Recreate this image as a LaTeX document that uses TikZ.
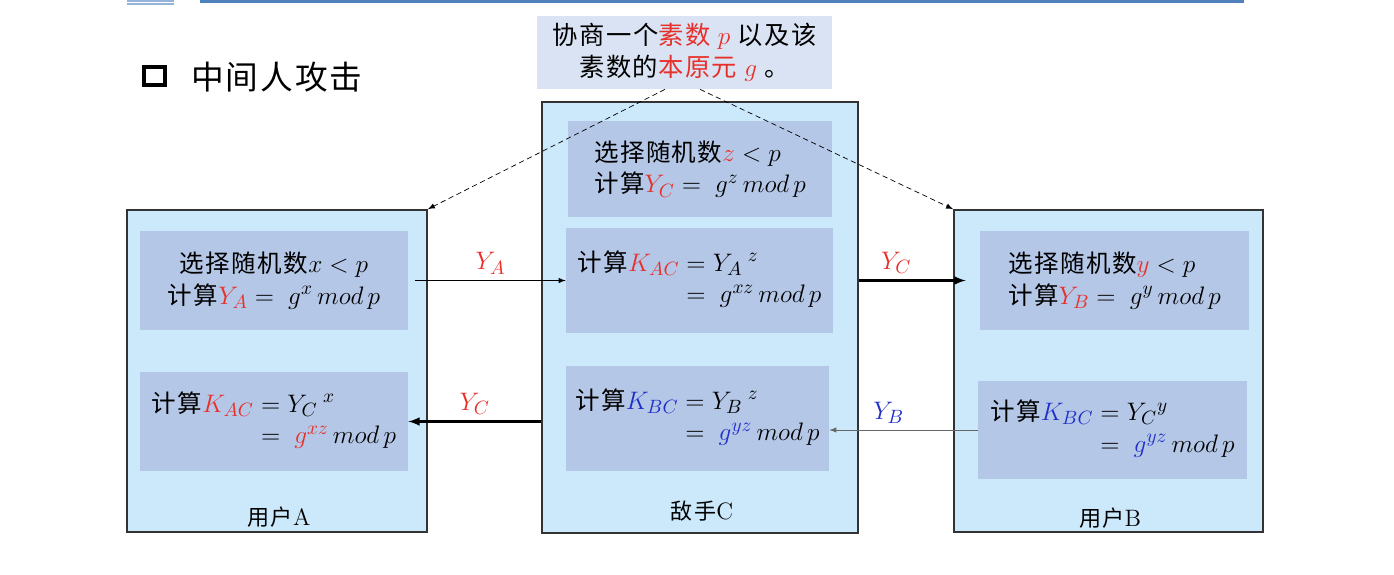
\documentclass[tikz,border=0pt]{standalone}
\usepackage{fontspec}
\usepackage{xcolor}
\newfontfamily\cjk[Scale=0.93,LetterSpace=6]{Noto Sans CJK SC}
\usetikzlibrary{arrows,calc,positioning}
\definecolor{outerfill}{RGB}{204,232,251}
\definecolor{innerfill}{RGB}{180,199,231}
\definecolor{notefill}{RGB}{218,227,243}
\definecolor{keyred}{RGB}{232,48,42}
\definecolor{keyblue}{RGB}{32,48,200}
\definecolor{headblue}{RGB}{79,129,189}

\begin{document}
\begin{tikzpicture}[x=0.02cm,y=-0.02cm,
		party/.style={draw=black!80, line width=1pt, fill=outerfill},
		calcbox/.style={fill=innerfill, inner sep=0pt, font=\cjk\fontsize{15}{18}\selectfont},
		msg/.style={above, font=\fontsize{15}{17}\selectfont},
		who/.style={font=\fontsize{13.5}{15}\selectfont}]
		\useasboundingbox (0,0) rectangle (1394,575);
		\draw[headblue!60, line width=0.6pt] (127,1) -- (174,1);
		\draw[headblue!60, line width=0.6pt] (127,4) -- (174,4);
		\draw[headblue, line width=1.8pt] (200,1.5) -- (1244,1.5);
		\draw[line width=2.2pt] (144,67) rectangle (165,85);
		\node[font=\cjk\fontsize{20}{22}\selectfont] (title) at (277,77) {中间人攻击};
		\node[fill=notefill, minimum width=5.9cm, minimum height=1.46cm, align=center, font=\cjk\fontsize{15.5}{18.5}\selectfont] (note) at (684.5,52.5) {协商一个\textcolor{keyred}{素数 $p$} 以及该\\素数的\textcolor{keyred}{本原元 $g$} 。};
		\node[party, minimum width=6cm, minimum height=6.44cm] (userA) at (277,371) {};
		\node[party, minimum width=6.32cm, minimum height=8.62cm] (enemyC) at (700,317.5) {};
		\node[party, minimum width=6.18cm, minimum height=6.44cm] (userB) at (1108.5,371) {};
		\node[calcbox, minimum width=5.36cm, minimum height=1.98cm, align=center] (selA) at (274,280.5) {选择随机数$x < p$\\计算$\textcolor{keyred}{Y_A} = \ g^x\,mod\,p$};
		\node[calcbox, minimum width=5.36cm, minimum height=1.98cm] (keyA) at (274,421.5) {\begin{tabular}{@{}l@{}l@{}}
			计算$\textcolor{keyred}{K_{AC}}$ & $\;= Y_C{}^{\;x}$\\
			& $\;= \ \textcolor{keyred}{g^{xz}}\,mod\,p$
			\end{tabular}};
		\node[calcbox, minimum width=5.28cm, minimum height=1.92cm, align=left] (selC) at (700,169) {选择随机数$\textcolor{keyred}{z} < p$\\计算$\textcolor{keyred}{Y_C} = \ g^z\,mod\,p$};
		\node[calcbox, minimum width=5.34cm, minimum height=2.1cm] (keyCA) at (699.5,280.5) {\begin{tabular}{@{}l@{}l@{}}
			计算$\textcolor{keyred}{K_{AC}}$ & $\ = Y_A{}^{\;z}$\\
			& $\ = \ g^{xz}\,mod\,p$
			\end{tabular}};
		\node[calcbox, minimum width=5.26cm, minimum height=2.1cm] (keyCB) at (697.5,418.5) {\begin{tabular}{@{}l@{}l@{}}
			计算$\textcolor{keyblue}{K_{BC}}$ & $\ = Y_B{}^{\;z}$\\
			& $\ = \ \textcolor{keyblue}{g^{yz}}\,mod\,p$
			\end{tabular}};
		\node[calcbox, minimum width=5.38cm, minimum height=1.98cm, align=left] (selB) at (1114.5,280.5) {选择随机数$\textcolor{keyred}{y} < p$\\计算$\textcolor{keyred}{Y_B} = \ g^y\,mod\,p$};
		\node[calcbox, minimum width=5.38cm, minimum height=1.96cm] (keyB) at (1112.5,430) {\begin{tabular}{@{}l@{}l@{}}
			计算$\textcolor{keyblue}{K_{BC}}$ & $\ = Y_C{}^{y}$\\
			& $\ = \ \textcolor{keyblue}{g^{yz}}\,mod\,p$
			\end{tabular}};
		\node[who] (labA) at (279,517) {{\cjk 用户}A};
		\node[who] (labC) at (702,511) {{\cjk 敌手}C};
		\node[who] (labB) at (1110,518) {{\cjk 用户}B};
		\draw[dashed, dash pattern=on 3pt off 2pt, -latex] ($(note.south)+(-19.5,0)$) -- (userA.north east);
		\draw[dashed, dash pattern=on 3pt off 2pt, -latex] ($(note.south)+(15.5,0)$) -- (userB.north west);
		\draw[-latex] ([xshift=0.14cm]selA.east) -- node[msg, keyred] {$Y_A$} (keyCA.west);
		\draw[line width=1.2pt, -latex] (keyA.east -| enemyC.west) -- node[msg, keyred] {$Y_C$} (keyA.east);
		\draw[line width=1.2pt, -latex] (selB.west -| enemyC.east) -- node[msg, pos=0.35, keyred] {$Y_C$} ([xshift=-0.28cm]selB.west);
		\draw[black!60, -latex] (keyB.west) -- node[msg, pos=0.6, keyblue] {$Y_B$} (keyB.west -| keyCB.east);
\end{tikzpicture}
\end{document}
